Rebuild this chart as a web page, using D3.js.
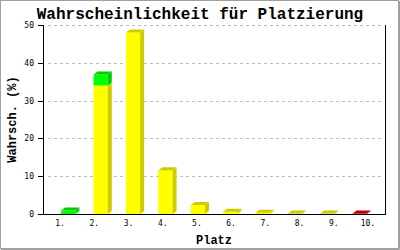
<!DOCTYPE html>
<html>
<head>
<meta charset="utf-8">
<script src="https://cdn.jsdelivr.net/npm/d3@7"></script>
<style>
  body { margin: 0; background: #fff; }
  text { font-family: "DejaVu Sans Mono", monospace; }
  .title { font-family: "Liberation Mono", "DejaVu Sans Mono", monospace; }
</style>
</head>
<body>
<div id="chart"></div>
<script>
// data
const places = ["1.", "2.", "3.", "4.", "5.", "6.", "7.", "8.", "9.", "10."];
const yellowValues = [0, 34, 48, 11.6, 2.4, 0.6, 0.35, 0.1, 0.1, 0];
const greenValues = [0.9, 2.9, 0, 0, 0, 0, 0, 0, 0, 0];
const redValues = [0, 0, 0, 0, 0, 0, 0, 0, 0, 0.15];
const yTicks = [0, 10, 20, 30, 40, 50];

const seriesKeys = ["yellow", "green", "red"];
const fronts = {yellow: "#ffff00", green: "#00ff00", red: "#e00000"};
const darks = {yellow: "#cccc00", green: "#00cc00", red: "#c00000"};

const W = 400, H = 250;
const plot = {left: 43, right: 385, top: 25, bottom: 214};
const depth = {dx: 4, dy: 3};

const rows = places.map((p, i) => ({
    place: p, yellow: yellowValues[i], green: greenValues[i], red: redValues[i]
}));

const svg = d3.select("#chart").append("svg")
    .attr("width", W)
    .attr("height", H);

svg.append("rect").attr("width", W).attr("height", H).attr("fill", "#fff");

// frame with a small shadow
svg.append("rect")
    .attr("x", 0.5).attr("y", 0.5)
    .attr("width", W - 2).attr("height", H - 2)
    .attr("fill", "none").attr("stroke", "#a0a0a0");
svg.append("path")
    .attr("d", `M${W - 0.5},1V${H - 0.5}H1`)
    .attr("fill", "none").attr("stroke", "#a0a0a0");

const x = d3.scaleBand()
    .domain(places)
    .range([plot.left, plot.right])
    .padding(0.56);

const y = d3.scaleLinear()
    .domain([0, 50])
    .range([plot.bottom, plot.top]);

// grid
svg.append("g")
    .selectAll("line")
    .data(yTicks.filter(t => t > 0))
    .join("line")
    .attr("x1", plot.left + 5).attr("x2", plot.right - 1)
    .attr("y1", d => y(d) + 0.5).attr("y2", d => y(d) + 0.5)
    .attr("stroke", "#bdbdbd")
    .attr("stroke-dasharray", "3,3")
    .attr("shape-rendering", "crispEdges");

// bars
const stacked = d3.stack().keys(seriesKeys)(rows);
const topKey = rows.map(r => {
    let k = null;
    seriesKeys.forEach(s => { if (r[s] > 0) k = s; });
    return k;
});

const bars = svg.append("g");
stacked.forEach(layer => {
    const key = layer.key;
    layer.forEach((seg, i) => {
        if (seg[1] - seg[0] <= 0) return;
        const x0 = x(places[i]);
        const x1 = x0 + x.bandwidth();
        const yTop = y(seg[1]);
        const yBot = y(seg[0]);
        const g = bars.append("g");
        g.append("rect")
            .attr("x", x0).attr("y", yTop)
            .attr("width", x.bandwidth()).attr("height", yBot - yTop)
            .attr("fill", fronts[key]);
        g.append("path")
            .attr("d", `M${x1},${yTop}L${x1 + depth.dx},${yTop - depth.dy}L${x1 + depth.dx},${yBot - depth.dy}L${x1},${yBot}Z`)
            .attr("fill", darks[key]);
        if (topKey[i] === key) {
            g.append("path")
                .attr("d", `M${x0},${yTop}L${x0 + depth.dx},${yTop - depth.dy}L${x1 + depth.dx},${yTop - depth.dy}L${x1},${yTop}Z`)
                .attr("fill", darks[key]);
        }
    });
});

// axes
const axisG = svg.append("g").attr("shape-rendering", "crispEdges");
axisG.append("line")
    .attr("x1", plot.left + 0.5).attr("x2", plot.left + 0.5)
    .attr("y1", plot.top).attr("y2", plot.bottom + 1)
    .attr("stroke", "#000");
axisG.append("line")
    .attr("x1", plot.right + 0.5).attr("x2", plot.right + 0.5)
    .attr("y1", plot.top).attr("y2", plot.bottom + 1)
    .attr("stroke", "#000");
axisG.append("line")
    .attr("x1", plot.left).attr("x2", plot.right + 1)
    .attr("y1", plot.bottom + 0.5).attr("y2", plot.bottom + 0.5)
    .attr("stroke", "#000");

axisG.selectAll(".tick")
    .data(yTicks)
    .join("line")
    .attr("class", "tick")
    .attr("x1", plot.left - 5).attr("x2", plot.left)
    .attr("y1", d => y(d) + 0.5).attr("y2", d => y(d) + 0.5)
    .attr("stroke", "#000");

svg.append("g")
    .selectAll("text")
    .data(yTicks)
    .join("text")
    .attr("x", plot.left - 9)
    .attr("y", d => y(d) + 3)
    .attr("text-anchor", "end")
    .attr("font-size", 8)
    .text(d => d);

const band = d3.scaleBand().domain(places).range([plot.left, plot.right]);
svg.append("g")
    .selectAll("text")
    .data(places)
    .join("text")
    .attr("x", d => band(d) + band.bandwidth() / 2)
    .attr("y", plot.bottom + 12)
    .attr("text-anchor", "middle")
    .attr("font-size", 8)
    .text(d => d);

// titles
svg.append("text")
    .attr("class", "title")
    .attr("x", 200).attr("y", 18.5)
    .attr("text-anchor", "middle")
    .attr("font-size", 16)
    .attr("font-weight", "bold")
    .text("Wahrscheinlichkeit für Platzierung");

svg.append("text")
    .attr("class", "title")
    .attr("x", (plot.left + plot.right) / 2).attr("y", 244)
    .attr("text-anchor", "middle")
    .attr("font-size", 12)
    .attr("font-weight", "bold")
    .text("Platz");

svg.append("text")
    .attr("class", "title")
    .attr("transform", `translate(16, ${(plot.top + plot.bottom) / 2}) rotate(-90)`)
    .attr("text-anchor", "middle")
    .attr("font-size", 12)
    .attr("font-weight", "bold")
    .text("Wahrsch. (%)");
</script>
</body>
</html>
